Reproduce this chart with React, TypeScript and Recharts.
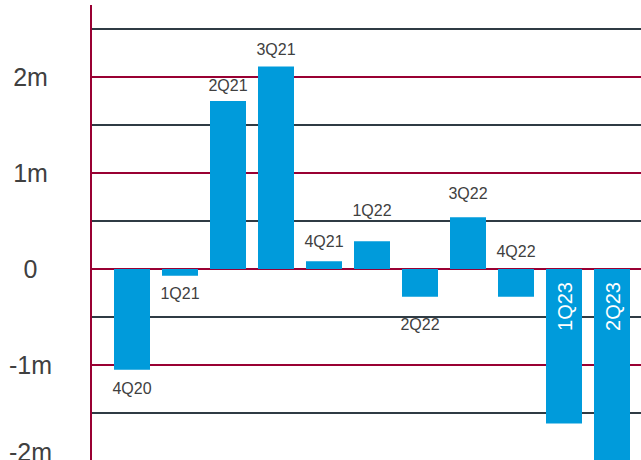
import { BarChart, Bar, XAxis, YAxis, ReferenceLine, LabelList } from 'recharts';

const quarters = ['4Q20', '1Q21', '2Q21', '3Q21', '4Q21', '1Q22', '2Q22', '3Q22', '4Q22', '1Q23', '2Q23'];
const change = [-1.05, -0.07, 1.75, 2.11, 0.08, 0.29, -0.29, 0.54, -0.29, -1.61, -2.0];
const majorTicks = [2, 1, 0, -1, -2];
const minorTicks = [2.5, 1.5, 0.5, -0.5, -1.5];

// where each quarter's label sits (the original was placed by hand)
const labelPlacement: Record<string, string> = {
  '4Q20': 'below', '1Q21': 'below', '2Q21': 'above', '3Q21': 'above', '4Q21': 'above',
  '1Q22': 'above', '2Q22': 'below', '3Q22': 'above', '4Q22': 'aboveZero', '1Q23': 'inside', '2Q23': 'inside',
};
const labelGap: Record<string, number> = {
  '4Q20': 24, '1Q21': 23, '2Q21': 10, '3Q21': 11, '4Q21': 14,
  '1Q22': 25, '2Q22': 33, '3Q22': 18, '4Q22': 12, '1Q23': 13, '2Q23': 13,
};

const data = quarters.map((q, i) => ({ name: q, value: change[i] }));

const BLUE = '#009BDB';
const MAROON = '#990033';
const SLATE = '#2F3B44';
const TEXT = '#404040';

const fmt = (v: number) => (v === 0 ? '0' : `${v}m`);

function YTick(props: any) {
  const { y, payload } = props;
  const v = payload.value;
  const dy = v === -2 ? 0 : 9;
  return (
    <text x={30.5} y={y + dy} textAnchor="middle" fontSize={25} fill={TEXT} fontFamily="'Liberation Sans', Arial, sans-serif">
      {fmt(v)}
    </text>
  );
}

function QuarterLabel(props: any) {
  const { x, y, width, height, value, index } = props;
  const top = Math.min(y, y + height);
  const bottom = Math.max(y, y + height);
  const cx = x + width / 2;
  const place = labelPlacement[value];
  const gap = labelGap[value];
  const isNeg = change[index] < 0;
  if (place === 'inside') {
    const ty = top + gap;
    return (
      <text
        x={cx + 7.5}
        y={ty}
        transform={`rotate(-90 ${cx + 7.5} ${ty})`}
        textAnchor="end"
        fontSize={20}
        fill="#ffffff"
        fontFamily="'Liberation Sans', Arial, sans-serif"
      >
        {value}
      </text>
    );
  }
  let by: number;
  if (place === 'below') by = bottom + gap;
  else if (place === 'aboveZero') by = (isNeg ? top : bottom) - gap;
  else by = top - gap;
  return (
    <text x={cx} y={by} textAnchor="middle" fontSize={16} fill={TEXT} fontFamily="'Liberation Sans', Arial, sans-serif">
      {value}
    </text>
  );
}

export default function App() {
  return (
    <div style={{ position: 'absolute', left: 0, top: 0, width: 641, height: 460, overflow: 'hidden', background: '#fff' }}>
      <style>{'body{margin:0;overflow:hidden}'}</style>
      <BarChart width={641} height={461} data={data} margin={{ top: 5, right: 0, bottom: 0, left: 0 }}>
        <XAxis dataKey="name" hide padding={{ left: 17, right: 5 }} />
        <YAxis
          type="number"
          domain={[-2, 2.75]}
          ticks={majorTicks}
          interval={0}
          width={91}
          tick={<YTick />}
          tickLine={false}
          axisLine={{ stroke: MAROON, strokeWidth: 2 }}
        />
        {minorTicks.map((v) => (
          <ReferenceLine key={`mi${v}`} y={v} stroke={SLATE} strokeWidth={2} zIndex={-100} />
        ))}
        {majorTicks.map((v) => (
          <ReferenceLine key={`ma${v}`} y={v} stroke={MAROON} strokeWidth={2} zIndex={-100} />
        ))}
        <Bar dataKey="value" fill={BLUE} barSize={36} isAnimationActive={false}>
          <LabelList dataKey="name" content={<QuarterLabel />} />
        </Bar>
      </BarChart>
    </div>
  );
}
